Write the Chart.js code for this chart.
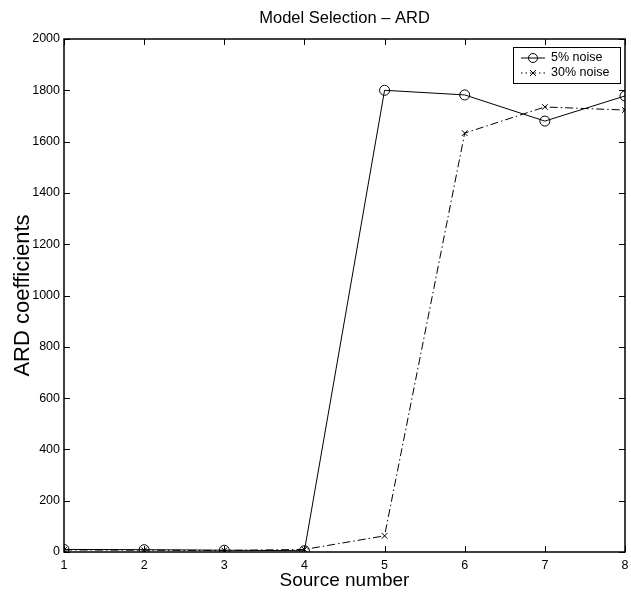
<!DOCTYPE html>
<html>
<head>
<meta charset="utf-8">
<script src="https://cdn.jsdelivr.net/npm/chart.js@4.4.1/dist/chart.umd.min.js"></script>
<style>
  html, body { margin: 0; padding: 0; background: #fff; }
  #wrap { width: 631px; height: 595px; position: relative; }
</style>
</head>
<body>
<div id="wrap"><canvas id="chartjs" width="631" height="595"></canvas></div>
<script>
// data
var sources = [1, 2, 3, 4, 5, 6, 7, 8];
var noise5 = [10, 9, 7, 5, 1800, 1782, 1680, 1778];
var noise30 = [8, 7, 6, 10, 63, 1633, 1735, 1723];
var yTicks = [0, 200, 400, 600, 800, 1000, 1200, 1400, 1600, 1800, 2000];
var seriesNames = ["5% noise", "30% noise"];

var FONT = "'Liberation Sans', Arial, sans-serif";

function toPoints(vals){
    var pts = [];
    for (var i in vals) { pts.push({x: sources[i], y: vals[i]}); }
    return pts;
}

// matlab style box, inward ticks, title and legend
var boxPlugin = {
    id: "box",
    afterDraw: function(chart){
        var ctx = chart.ctx;
        var a = chart.chartArea;
        var xs = chart.scales.x, ys = chart.scales.y;
        ctx.save();
        ctx.strokeStyle = "#000";
        ctx.lineWidth = 1.5;
        ctx.strokeRect(a.left, a.top, a.right - a.left, a.bottom - a.top);
        ctx.lineWidth = 1;
        ctx.beginPath();
        sources.forEach(function(v){
            var px = Math.round(xs.getPixelForValue(v)) + 0.5;
            ctx.moveTo(px, a.bottom); ctx.lineTo(px, a.bottom - 6);
            ctx.moveTo(px, a.top); ctx.lineTo(px, a.top + 6);
        });
        yTicks.forEach(function(v){
            var py = Math.round(ys.getPixelForValue(v)) + 0.5;
            ctx.moveTo(a.left, py); ctx.lineTo(a.left + 6, py);
            ctx.moveTo(a.right, py); ctx.lineTo(a.right - 6, py);
        });
        ctx.stroke();

        // title
        ctx.fillStyle = "#000";
        ctx.font = "16.5px " + FONT;
        ctx.textAlign = "center";
        ctx.textBaseline = "middle";
        ctx.fillText("Model Selection \u2013 ARD", (a.left + a.right) / 2, 18);

        // legend
        var lx = 513, ly = 47, lw = 107, lh = 36;
        ctx.fillStyle = "#fff";
        ctx.fillRect(lx, ly, lw, lh);
        ctx.strokeStyle = "#000";
        ctx.lineWidth = 1;
        ctx.strokeRect(lx + 0.5, ly + 0.5, lw, lh);
        ctx.font = "12.5px " + FONT;
        ctx.textAlign = "left";
        ctx.fillStyle = "#000";
        var rows = [58, 73];
        // row 1
        ctx.beginPath(); ctx.moveTo(521, rows[0]); ctx.lineTo(545, rows[0]); ctx.stroke();
        ctx.beginPath(); ctx.arc(533, rows[0], 4.5, 0, Math.PI * 2); ctx.stroke();
        ctx.fillText(seriesNames[0], 551, rows[0]);
        // row 2
        ctx.setLineDash([1.5, 3]);
        ctx.beginPath(); ctx.moveTo(521, rows[1]); ctx.lineTo(545, rows[1]); ctx.stroke();
        ctx.setLineDash([]);
        ctx.beginPath();
        ctx.moveTo(530, rows[1] - 3); ctx.lineTo(536, rows[1] + 3);
        ctx.moveTo(536, rows[1] - 3); ctx.lineTo(530, rows[1] + 3);
        ctx.stroke();
        ctx.fillText(seriesNames[1], 551, rows[1]);
        ctx.restore();
    }
};

var graph = new Chart(document.getElementById("chartjs"), {
    type: "line",
    data: {
        datasets: [
            {
                label: seriesNames[0],
                data: toPoints(noise5),
                borderColor: "#000",
                borderWidth: 1,
                pointStyle: "circle",
                pointRadius: 5,
                pointBorderColor: "#000",
                pointBackgroundColor: "rgba(0,0,0,0)",
                pointBorderWidth: 1,
                fill: false,
                tension: 0
            },
            {
                label: seriesNames[1],
                data: toPoints(noise30),
                borderColor: "#000",
                borderWidth: 1,
                borderDash: [8, 3, 1.5, 3],
                pointStyle: "crossRot",
                pointRadius: 4,
                pointBorderColor: "#000",
                pointBorderWidth: 1,
                fill: false,
                tension: 0
            }
        ]
    },
    options: {
        responsive: false,
        animation: false,
        layout: { padding: { top: 39, right: 0, left: 0, bottom: 0 } },
        plugins: { legend: { display: false }, tooltip: { enabled: false } },
        scales: {
            x: {
                type: "linear",
                min: 1, max: 8,
                afterFit: function(s){ s.height = 43; s.paddingRight = 4; },
                afterBuildTicks: function(s){ s.ticks = sources.map(function(v){ return {value: v}; }); },
                grid: { display: false, drawTicks: false },
                border: { display: false },
                ticks: { color: "#000", font: { family: FONT, size: 12.5 }, padding: 6, maxRotation: 0,
                         callback: function(v){ return String(v); } },
                title: { display: true, text: "Source number", color: "#000", font: { family: FONT, size: 19 }, padding: { top: 0, bottom: 3 } }
            },
            y: {
                type: "linear",
                min: 0, max: 2000,
                afterFit: function(s){ s.width = 64; },
                afterBuildTicks: function(s){ s.ticks = yTicks.map(function(v){ return {value: v}; }); },
                grid: { display: false, drawTicks: false },
                border: { display: false },
                ticks: { color: "#000", font: { family: FONT, size: 12.5 }, padding: 4,
                          callback: function(v){ return String(v); } },
                title: { display: true, text: "ARD coefficients", color: "#000", font: { family: FONT, size: 22 }, padding: { top: 10, bottom: 0 } }
            }
        }
    },
    plugins: [boxPlugin]
});
</script>
</body>
</html>
